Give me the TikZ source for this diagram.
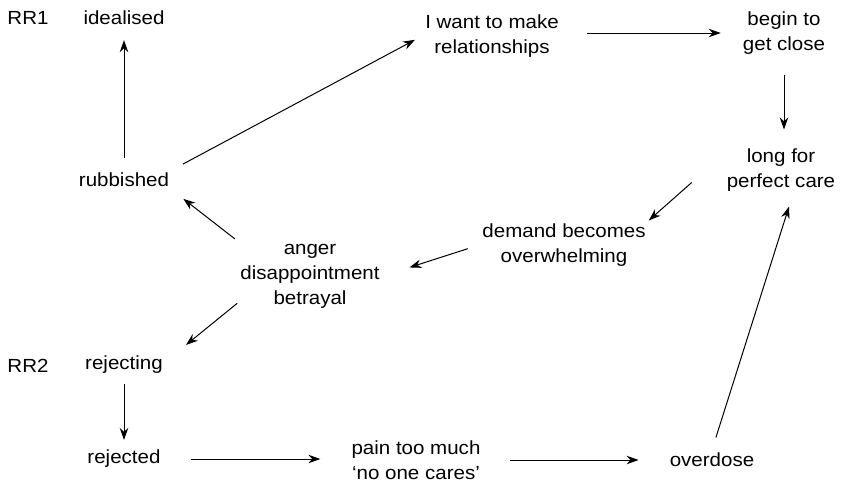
\documentclass[tikz,border=0pt]{standalone}
\usepackage{fontspec}
\setmainfont[FakeStretch=1.08]{Liberation Sans}
\usetikzlibrary{arrows.meta, calc}

\tikzset{
    state/.style={align=center, inner sep=3pt, font=\fontsize{19}{25}\selectfont},
    link/.style={-{Stealth[length=12pt, width=8.5pt]}, line width=1pt},
}

\begin{document}
\begin{tikzpicture}[x=1pt, y=-1pt]

    \useasboundingbox (0, 0) rectangle (841, 483);

    % upper cycle
    \node[state] (rr1) at (28, 18) {RR1};
    \node[state] (idealised) at (124, 18) {idealised};
    \node[state] (rubbished) at (124, 180) {rubbished};
    \node[state] (want) at (492, 36) {I want to make\\relationships};
    \node[state] (begin) at (784, 33) {begin to\\get close};
    \node[state] (long) at (781, 170) {long for\\perfect care};
    \node[state] (demand) at (564, 245) {demand becomes\\overwhelming};
    \node[state] (anger) at (310, 276) {anger\\disappointment\\betrayal};

    % lower cycle
    \node[state] (rr2) at (28, 366) {RR2};
    \node[state] (rejecting) at (124, 365) {rejecting};
    \node[state] (rejected) at (124, 459) {rejected};
    \node[state] (pain) at (416, 460) {pain too much\\‘no one cares’};
    \node[state] (overdose) at (712, 460) {overdose};

    % connectors
    \draw[link, shorten <=12pt, shorten >=12pt] (rubbished.north) -- (idealised.south);
    \draw[link, shorten <=12pt, shorten >=8pt] (rubbished.north east) -- (want.west);
    \draw[link, shorten <=25pt, shorten >=19pt] (want.east |- begin.west) -- (begin.west);
    \draw[link, shorten <=17pt, shorten >=16pt] (begin.south) -- (begin.south |- long.north);
    \draw[link] ($(long.south west)+(-32,-12)$) -- (demand.north east);
    \draw[link, shorten <=12pt, shorten >=28pt] (demand.west) -- (anger.east);
    \draw[link, shorten <=3pt, shorten >=14pt] (anger.north west) -- (rubbished.south east);
    \draw[link] ($(anger.south west)+(0,-8)$) -- ($(rejecting.north east)+(20,-8)$);
    \draw[link, shorten <=7pt, shorten >=7pt] (rejecting.south) -- (rejected.north);
    \draw[link, shorten <=27pt, shorten >=28pt] (rejected.east) -- (rejected.east -| pain.west);
    \draw[link, shorten <=26pt, shorten >=28pt] (overdose.west -| pain.east) -- (overdose.west);
    \draw[link, shorten <=13pt] (overdose.north) -- ($(long.south)+(8,12)$);

\end{tikzpicture}
\end{document}
